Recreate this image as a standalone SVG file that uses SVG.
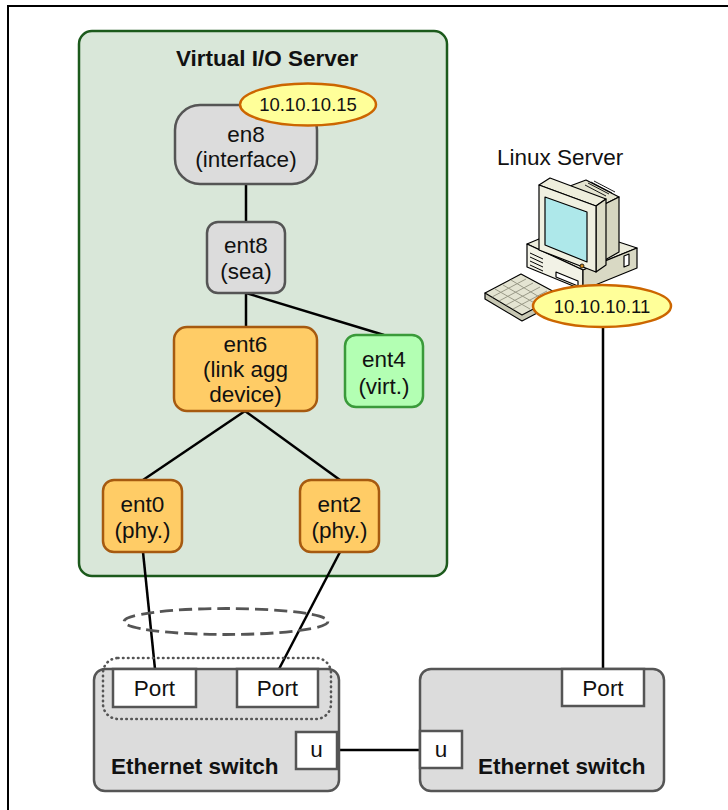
<svg xmlns="http://www.w3.org/2000/svg" width="728" height="810" viewBox="0 0 728 810">
  <style>
    text { font-family: "Liberation Sans", Arial, sans-serif; fill: #111; }
    .lbl { font-size: 22.5px; text-anchor: middle; }
    .ip { font-size: 18.5px; text-anchor: middle; }
    .bold { font-size: 22.5px; font-weight: bold; }
    .gray { fill: #dcdcdc; stroke: #555; stroke-width: 2.5; }
    .orange { fill: #ffcc66; stroke: #a65a10; stroke-width: 2.5; }
    .green { fill: #b3ffb3; stroke: #3a9a3a; stroke-width: 2.5; }
    .ipball { fill: #ffff99; stroke: #cc6600; stroke-width: 2.5; }
    .port { fill: #fff; stroke: #555; stroke-width: 2.5; }
    .wire { stroke: #000; stroke-width: 2.5; fill: none; }
    .ico { stroke: #000; stroke-width: 1.2; stroke-linejoin: round; }
  </style>

  <!-- outer frame -->
  <rect x="8" y="6" width="740" height="830" fill="#fff" stroke="#000" stroke-width="2"/>

  <!-- Virtual I/O Server container -->
  <g id="vios">
    <rect x="79" y="31" width="368" height="545" rx="13" fill="#d9e7d9" stroke="#1c5a1c" stroke-width="2.5"/>
    <text class="bold" x="267" y="66" text-anchor="middle">Virtual I/O Server</text>
  </g>

  <!-- connectors -->
  <g id="connectors">
    <line class="wire" x1="246" y1="184" x2="246" y2="222"/>
    <line class="wire" x1="246" y1="293" x2="246" y2="327"/>
    <line class="wire" x1="246" y1="293" x2="384" y2="335"/>
    <line class="wire" x1="245" y1="411" x2="143" y2="480"/>
    <line class="wire" x1="245" y1="411" x2="340" y2="480"/>
    <line class="wire" x1="143" y1="552" x2="155" y2="669"/>
    <line class="wire" x1="340" y1="552" x2="279" y2="669"/>
    <line class="wire" x1="337" y1="750" x2="420" y2="750"/>
    <line class="wire" x1="603" y1="320" x2="603" y2="669"/>
  </g>

  <!-- aggregated link marker -->
  <ellipse id="agg-ring" cx="226" cy="621.5" rx="102" ry="13" fill="none" stroke="#555" stroke-width="2.8" stroke-dasharray="13 6"/>

  <g id="en8">
    <rect class="gray" x="175" y="105" width="142" height="79" rx="25"/>
    <text class="lbl" x="246" y="142">en8</text>
    <text class="lbl" x="246" y="167">(interface)</text>
  </g>
  <g id="ip-vios">
    <ellipse class="ipball" cx="308" cy="104.5" rx="68" ry="21"/>
    <text class="ip" x="308" y="111">10.10.10.15</text>
  </g>

  <g id="ent8">
    <rect class="gray" x="207" y="222" width="78" height="71" rx="11"/>
    <text class="lbl" x="246" y="253">ent8</text>
    <text class="lbl" x="246" y="279">(sea)</text>
  </g>

  <g id="ent6">
    <rect class="orange" x="174" y="327" width="143" height="84" rx="13"/>
    <text class="lbl" x="245.5" y="352">ent6</text>
    <text class="lbl" x="245.5" y="377">(link agg</text>
    <text class="lbl" x="245.5" y="402">device)</text>
  </g>

  <g id="ent4">
    <rect class="green" x="345" y="335" width="78" height="72" rx="11"/>
    <text class="lbl" x="384" y="367">ent4</text>
    <text class="lbl" x="384" y="394">(virt.)</text>
  </g>

  <g id="ent0">
    <rect class="orange" x="103" y="480" width="79" height="72" rx="11"/>
    <text class="lbl" x="142.5" y="512">ent0</text>
    <text class="lbl" x="142.5" y="538">(phy.)</text>
  </g>

  <g id="ent2">
    <rect class="orange" x="300" y="480" width="79" height="72" rx="11"/>
    <text class="lbl" x="339.5" y="512">ent2</text>
    <text class="lbl" x="339.5" y="538">(phy.)</text>
  </g>

  <!-- left switch -->
  <g id="switch-a">
    <rect class="gray" x="94" y="669" width="245" height="122" rx="11"/>
    <rect class="port" x="113" y="669" width="83" height="38"/>
    <text class="lbl" x="154.5" y="696">Port</text>
    <rect class="port" x="237" y="669" width="81" height="38"/>
    <text class="lbl" x="277.5" y="696">Port</text>
    <rect class="port" x="296" y="732" width="41" height="37"/>
    <text class="lbl" x="316.5" y="757">u</text>
    <text class="bold" x="111" y="774">Ethernet switch</text>
    <rect x="103" y="658" width="228" height="61" rx="15" fill="none" stroke="#555" stroke-width="2.6" stroke-dasharray="0.5 4.5" stroke-linecap="round"/>
  </g>

  <!-- right switch -->
  <g id="switch-b">
    <rect class="gray" x="420" y="669" width="244" height="122" rx="11"/>
    <rect class="port" x="562" y="669" width="82" height="37"/>
    <text class="lbl" x="603" y="696">Port</text>
    <rect class="port" x="420" y="731" width="42" height="37"/>
    <text class="lbl" x="441" y="757">u</text>
    <text class="bold" x="478" y="774">Ethernet switch</text>
  </g>

  <!-- Linux host -->
  <g id="linux">
    <text x="497" y="165" font-size="22.5">Linux Server</text>
    <!-- keyboard -->
    <polygon class="ico" points="485,293 485,299 522,321 560,301 560,295" fill="#c8c8b4"/>
    <polygon class="ico" points="485,293 521,274 560,295 522,315" fill="#e4e4d2"/>
    <g stroke="#9a9a88" stroke-width="1" fill="none">
      <line x1="492" y1="297" x2="526" y2="279"/>
      <line x1="499" y1="301" x2="533" y2="283"/>
      <line x1="506" y1="305" x2="540" y2="287"/>
      <line x1="513" y1="309" x2="547" y2="291"/>
      <line x1="495" y1="289" x2="530" y2="309"/>
      <line x1="503" y1="285" x2="538" y2="305"/>
      <line x1="511" y1="280" x2="546" y2="301"/>
    </g>
    <!-- system unit -->
    <polygon class="ico" points="527,244 570,226 637,248 583,270" fill="#ececdc"/>
    <polygon class="ico" points="527,244 583,270 583,290 527,267" fill="#f2f2e6"/>
    <polygon class="ico" points="583,270 637,248 637,268 583,290" fill="#d9d9c4"/>
    <g stroke="#000" stroke-width="1">
      <line x1="530" y1="253" x2="543" y2="259"/>
      <line x1="530" y1="257" x2="543" y2="263"/>
      <line x1="530" y1="261" x2="543" y2="267"/>
      <line x1="530" y1="265" x2="543" y2="271"/>
    </g>
    <polygon class="ico" points="556,272 578,281 578,286 556,277" fill="#fff"/>
    <polygon class="ico" points="624,256 629,254 629,265 624,267" fill="#fff"/>
    <!-- monitor casing -->
    <polygon class="ico" points="570,186 586,180 619,197 605,204" fill="#e4e4d0"/>
    <polygon class="ico" points="605,204 619,197 619,252 605,260" fill="#d6d6c0"/>
    <g stroke="#000" stroke-width="0.9">
      <line x1="585" y1="185" x2="606" y2="196"/>
      <line x1="588" y1="183" x2="609" y2="194"/>
      <line x1="591" y1="182" x2="612" y2="193"/>
      <line x1="594" y1="181" x2="615" y2="192"/>
    </g>
    <!-- monitor bezel -->
    <polygon class="ico" points="539,185 550,178 606,199 596,206" fill="#eeeedc"/>
    <polygon class="ico" points="596,206 606,199 606,265 596,272" fill="#dcdcc6"/>
    <polygon class="ico" points="539,185 596,206 596,272 539,250" fill="#f0f0e0"/>
    <polygon class="ico" points="545,197 587,212 587,262 545,245" fill="#aee8ea"/>
    <circle cx="582" cy="266" r="2" fill="#d08a20" stroke="#000" stroke-width="0.8"/>
  </g>
  <g id="ip-linux">
    <ellipse class="ipball" cx="602" cy="306" rx="69" ry="21"/>
    <text class="ip" x="602" y="313">10.10.10.11</text>
  </g>
</svg>
